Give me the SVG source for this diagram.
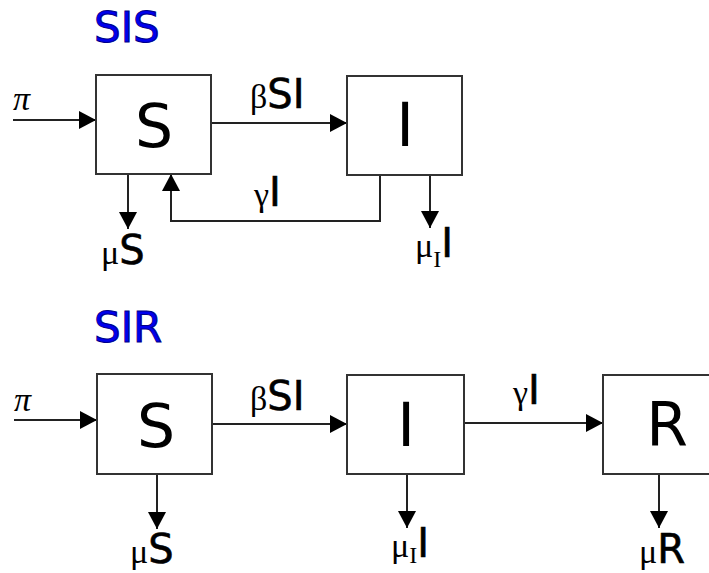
<svg xmlns="http://www.w3.org/2000/svg" width="709" height="573" viewBox="0 0 709 573">
<style>
.box{fill:#fff;stroke:#333;stroke-width:2}
.ln{fill:none;stroke:#222;stroke-width:2}
.big{font-family:"DejaVu Sans",sans-serif;font-size:60px;fill:#000;text-anchor:middle}
.lab{font-family:"DejaVu Sans",sans-serif;font-size:40px;fill:#000;stroke:#000;stroke-width:0.6}
.gr{font-family:"Liberation Serif",serif;font-size:34px;fill:#000}
.sub{font-family:"Liberation Serif",serif;font-size:24px;fill:#000}
.title{font-family:"DejaVu Sans",sans-serif;font-size:42px;fill:#0000ee;stroke:#00008a;stroke-width:1}
</style>
<defs>
<marker id="ah" markerWidth="17" markerHeight="18" refX="17" refY="9" orient="auto" markerUnits="userSpaceOnUse">
<path d="M0,0 L17,9 L0,18 Z" fill="#000"/>
</marker>
</defs>
<text class="title" x="94" y="42">SIS</text>
<text class="title" x="94" y="342">SIR</text>
<g id="connectors">
<line class="ln" x1="13" y1="120" x2="96" y2="120" marker-end="url(#ah)"/>
<line class="ln" x1="211" y1="123" x2="347" y2="123" marker-end="url(#ah)"/>
<line class="ln" x1="128" y1="174" x2="128" y2="229" marker-end="url(#ah)"/>
<polyline class="ln" points="380,175 380,221 171,221 171,174" marker-end="url(#ah)"/>
<line class="ln" x1="430" y1="175" x2="430" y2="228" marker-end="url(#ah)"/>
<line class="ln" x1="14" y1="420" x2="97" y2="420" marker-end="url(#ah)"/>
<line class="ln" x1="212" y1="424" x2="347" y2="424" marker-end="url(#ah)"/>
<line class="ln" x1="157" y1="474" x2="157" y2="529" marker-end="url(#ah)"/>
<line class="ln" x1="464" y1="423" x2="603" y2="423" marker-end="url(#ah)"/>
<line class="ln" x1="407" y1="474" x2="407" y2="528" marker-end="url(#ah)"/>
<line class="ln" x1="659" y1="474" x2="659" y2="528" marker-end="url(#ah)"/>
</g>
<g id="sis-S"><rect class="box" x="96" y="75" width="115" height="99"/><text class="big" x="154" y="147">S</text></g>
<g id="sis-I"><rect class="box" x="347" y="76" width="115" height="99"/><text class="big" x="405" y="146">I</text></g>
<g id="sir-S"><rect class="box" x="97" y="374" width="115" height="100"/><text class="big" x="156" y="447">S</text></g>
<g id="sir-I"><rect class="box" x="347" y="375" width="117" height="99"/><text class="big" x="406" y="446">I</text></g>
<g id="sir-R"><rect class="box" x="603" y="375" width="118" height="99"/><text class="big" x="667" y="446">R</text></g>
<g id="labels">
<text class="gr" x="13" y="110" font-style="italic">π</text>
<text x="250" y="108"><tspan class="gr">β</tspan><tspan class="lab">SI</tspan></text>
<text x="101" y="264"><tspan class="gr">μ</tspan><tspan class="lab">S</tspan></text>
<text x="254" y="206"><tspan class="gr">γ</tspan><tspan class="lab">I</tspan></text>
<text x="415" y="257"><tspan class="gr">μ</tspan><tspan class="sub" dy="10">I</tspan><tspan class="lab" dy="-10">I</tspan></text>
<text class="gr" x="14" y="411" font-style="italic">π</text>
<text x="250" y="410"><tspan class="gr">β</tspan><tspan class="lab">SI</tspan></text>
<text x="130" y="563"><tspan class="gr">μ</tspan><tspan class="lab">S</tspan></text>
<text x="513" y="404"><tspan class="gr">γ</tspan><tspan class="lab">I</tspan></text>
<text x="391" y="557"><tspan class="gr">μ</tspan><tspan class="sub" dy="6">I</tspan><tspan class="lab" dy="-6">I</tspan></text>
<text x="639" y="563"><tspan class="gr">μ</tspan><tspan class="lab">R</tspan></text>
</g>
</svg>
